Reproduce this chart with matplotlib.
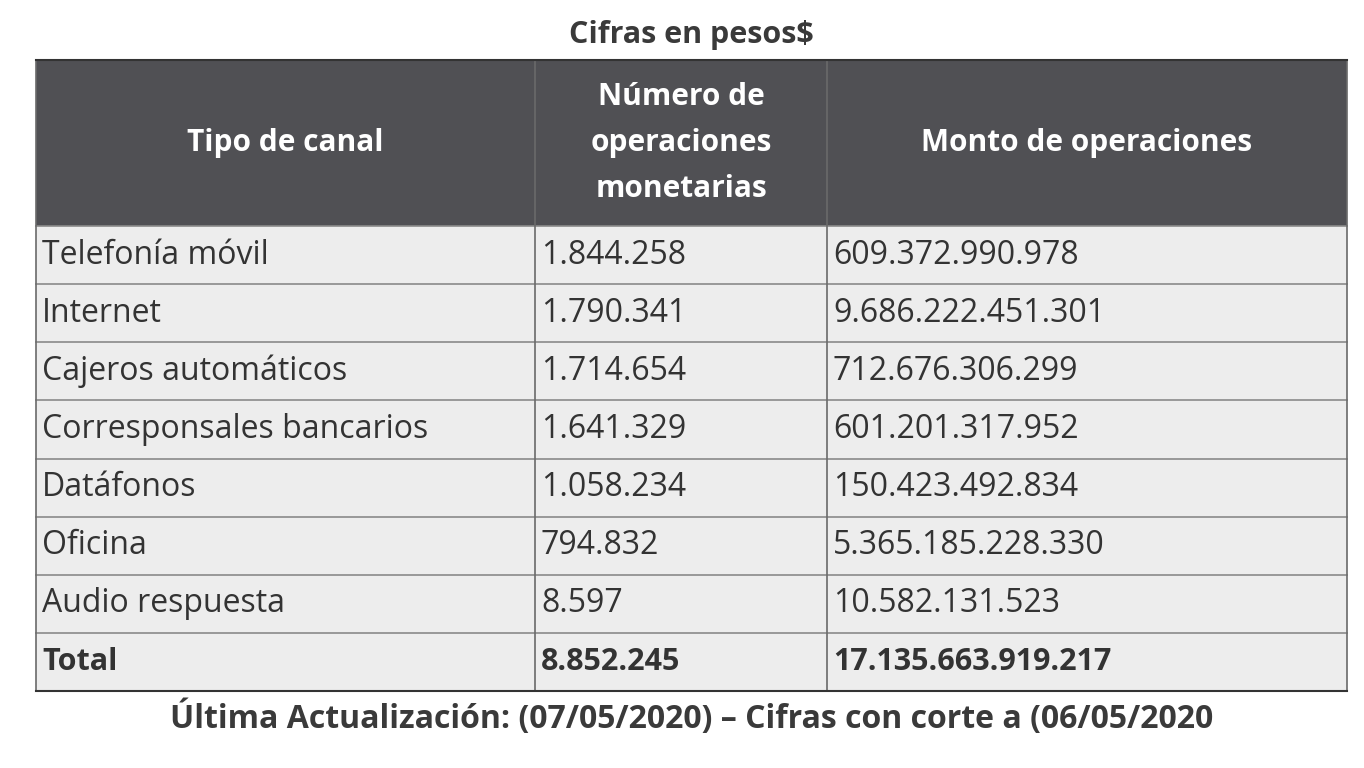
import matplotlib
matplotlib.use("Agg")
import matplotlib.pyplot as plt
from matplotlib.patches import Rectangle

title = "Cifras en pesos$"
headers = ["Tipo de canal", "Número de\noperaciones\nmonetarias", "Monto de operaciones"]
canales = ["Telefonía móvil", "Internet", "Cajeros automáticos", "Corresponsales bancarios",
           "Datáfonos", "Oficina", "Audio respuesta", "Total"]
num_ops = ["1.844.258", "1.790.341", "1.714.654", "1.641.329", "1.058.234", "794.832", "8.597", "8.852.245"]
montos = ["609.372.990.978", "9.686.222.451.301", "712.676.306.299", "601.201.317.952",
          "150.423.492.834", "5.365.185.228.330", "10.582.131.523", "17.135.663.919.217"]
footer = "Última Actualización: (07/05/2020) – Cifras con corte a (06/05/2020"

fig = plt.figure(figsize=(13.64, 7.68), dpi=100)
ax = fig.add_axes([0, 0, 1, 1])
ax.set_xlim(0, 1364); ax.set_ylim(768, 0); ax.axis("off")
FONT = "Open Sans"
txt = "#333333"

xs = [36, 535, 827, 1347]
htop, hbot = 60, 226
rh = (691 - 226) / len(canales)

ax.text(691, 35, title, ha="center", va="center", fontsize=22, fontweight="bold", color="#3a3a3a", family=FONT)
ax.add_patch(Rectangle((xs[0], htop), xs[-1]-xs[0], hbot-htop, facecolor="#505054", edgecolor="none"))
for i, h in enumerate(headers):
    ax.text((xs[i]+xs[i+1])/2, (htop+hbot)/2, h, ha="center", va="center", fontsize=21.5,
            fontweight="bold", color="white", family=FONT, linespacing=1.7)
for r in range(len(canales)):
    y0 = hbot + r*rh
    ax.add_patch(Rectangle((xs[0], y0), xs[-1]-xs[0], rh, facecolor="#ededed", edgecolor="none"))
    bold = "bold" if canales[r] == "Total" else "normal"
    for c, v in enumerate([canales[r], num_ops[r], montos[r]]):
        ax.text(xs[c]+6, y0+rh/2, v, ha="left", va="center", fontsize=23 if bold == "normal" else 22,
                fontweight=bold, color=txt, family=FONT)
for r in range(len(canales)+1):
    y = hbot + r*rh
    ax.plot([xs[0], xs[-1]], [y, y], color="#8a8a8a", lw=1.2)
for x in xs:
    ax.plot([x, x], [htop, 691], color="#6a6a6a", lw=1.2)
ax.plot([xs[0], xs[-1]], [htop, htop], color="#333333", lw=1.5)
ax.plot([xs[0], xs[-1]], [691, 691], color="#333333", lw=1.5)

ax.text(692, 718, footer, ha="center", va="center", fontsize=23, fontweight="bold", color="#3a3a3a", family=FONT)
fig.savefig("out.png", dpi=100, facecolor="white")
